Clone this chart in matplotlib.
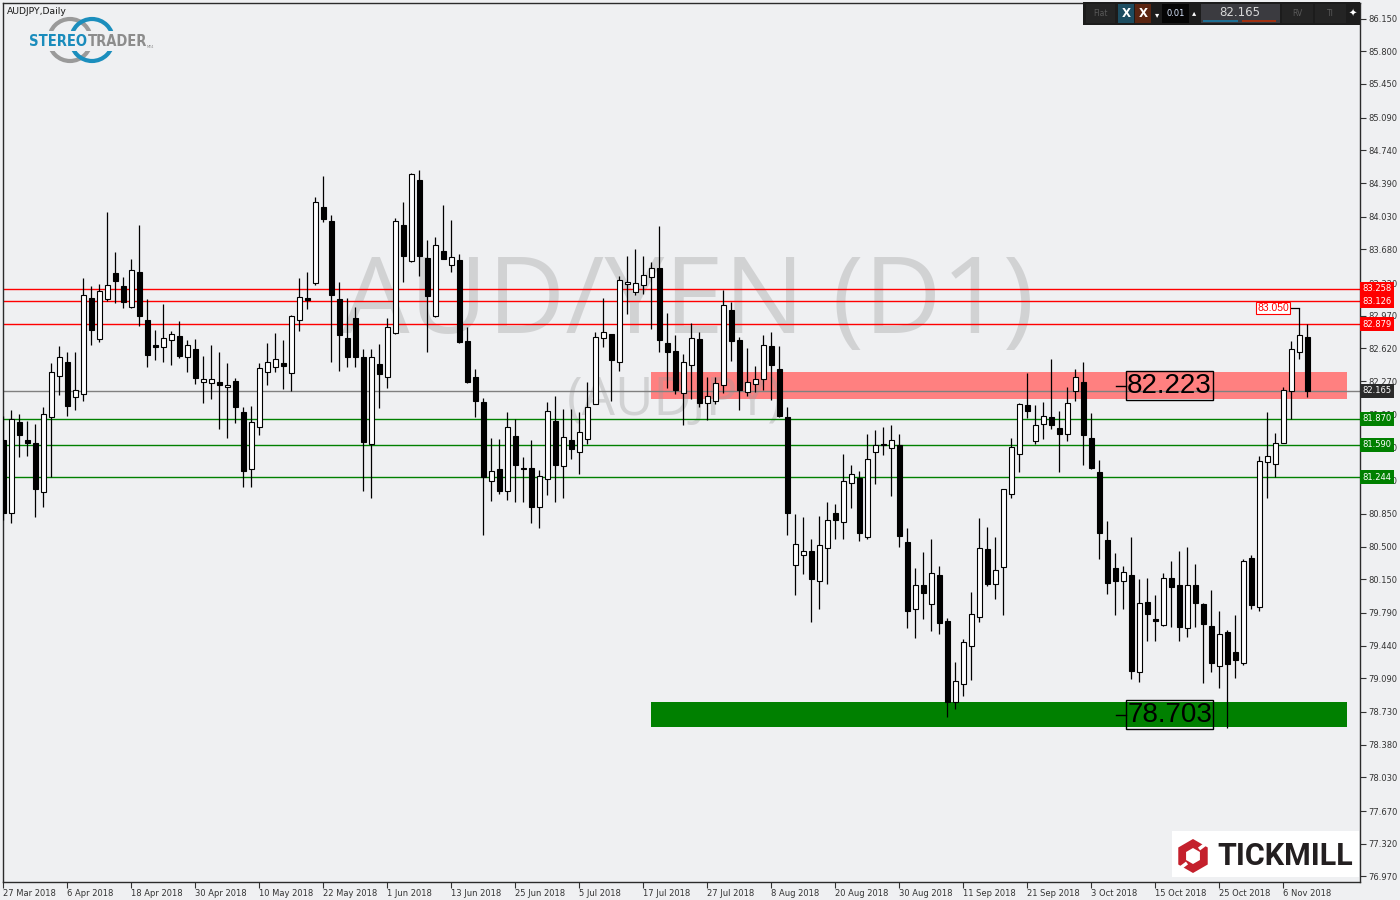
import matplotlib
matplotlib.use('Agg')
import matplotlib.pyplot as plt
from matplotlib.patches import Rectangle, Circle, RegularPolygon
import numpy as np
import pandas as pd

# AUDJPY daily bars, 27 Mar 2018 .. 9 Nov 2018
opens = [81.640, 80.857, 81.833, 81.640, 81.605, 81.088, 81.889, 82.322, 82.471, 82.097,
         82.129, 83.156, 82.718, 83.145, 83.427, 83.288, 83.066, 83.438, 82.924, 82.656,
         82.632, 82.707, 82.753, 82.525, 82.614, 82.257, 82.247, 82.261, 82.204, 82.271,
         81.940, 81.327, 81.776, 82.364, 82.418, 82.464, 82.354, 82.921, 83.156, 83.317,
         84.133, 83.980, 83.149, 82.731, 82.945, 82.528, 81.597, 82.453, 82.311, 82.788,
         83.940, 83.552, 84.422, 83.587, 82.967, 83.666, 83.509, 83.566, 82.699, 82.314,
         82.043, 81.198, 81.326, 81.098, 81.680, 81.337, 81.337, 80.920, 81.220, 81.840,
         81.362, 81.637, 81.508, 81.647, 82.022, 82.728, 82.774, 82.478, 83.306, 83.220,
         83.295, 83.381, 83.477, 82.678, 82.592, 82.140, 82.439, 82.721, 82.036, 82.054,
         82.229, 83.031, 82.710, 82.150, 82.236, 82.290, 82.646, 82.400, 81.883, 80.299,
         80.406, 80.452, 80.128, 80.481, 80.856, 80.759, 81.177, 81.236, 80.599, 81.508,
         81.600, 81.551, 81.587, 80.549, 79.829, 80.085, 79.882, 80.192, 79.700, 78.837,
         79.029, 79.436, 79.743, 80.470, 80.096, 80.284, 81.059, 81.487, 82.011, 81.626,
         81.808, 81.883, 81.768, 81.701, 82.161, 82.261, 81.661, 81.294, 80.570, 80.270,
         80.128, 80.192, 79.154, 79.903, 79.722, 79.665, 80.163, 80.085, 79.625, 80.085,
         79.885, 79.647, 79.219, 79.582, 79.372, 79.251, 80.377, 79.856, 81.407, 81.380,
         81.611, 82.161, 82.585, 82.739]
highs = [81.897, 81.961, 81.918, 81.843, 81.811, 81.990, 82.464, 82.646, 82.582, 82.582,
         83.373, 83.288, 83.309, 84.080, 83.652, 83.381, 83.573, 83.940, 83.149, 82.817,
         83.095, 82.806, 82.913, 82.710, 82.724, 82.542, 82.657, 82.582, 82.464, 82.307,
         81.990, 82.004, 82.464, 82.678, 82.785, 82.713, 82.978, 83.373, 83.438, 84.240,
         84.465, 84.048, 83.331, 83.156, 83.066, 82.614, 82.614, 82.667, 82.942, 84.012,
         84.183, 84.494, 84.529, 83.780, 83.809, 84.155, 83.994, 83.627, 82.849, 82.396,
         82.089, 81.661, 81.651, 81.940, 81.868, 81.455, 81.640, 81.319, 82.043, 82.108,
         81.972, 81.972, 81.936, 82.257, 82.799, 83.163, 82.774, 83.395, 83.606, 83.684,
         83.606, 83.545, 83.930, 82.996, 82.760, 82.560, 82.888, 82.796, 82.311, 82.314,
         83.245, 83.120, 82.742, 82.624, 82.432, 82.764, 82.799, 82.646, 81.993, 80.848,
         80.816, 80.581, 80.830, 80.977, 80.955, 81.490, 81.373, 81.311, 81.701, 81.744,
         81.775, 81.800, 81.708, 80.698, 80.270, 80.438, 80.581, 80.295, 79.739, 79.265,
         79.507, 80.013, 80.805, 80.712, 80.602, 81.119, 81.665, 82.039, 82.360, 82.011,
         82.047, 82.507, 81.950, 82.204, 82.400, 82.478, 81.929, 81.423, 80.773, 80.431,
         80.292, 80.602, 80.153, 80.167, 79.978, 80.214, 80.342, 80.449, 80.495, 80.310,
         79.893, 80.035, 79.807, 79.607, 79.768, 80.367, 80.410, 81.464, 81.936, 81.713,
         82.204, 82.696, 83.050, 82.879]
lows = [80.784, 80.755, 81.461, 81.468, 80.819, 80.926, 81.247, 82.125, 81.900, 81.964,
        82.061, 82.660, 82.692, 83.131, 83.103, 83.056, 83.056, 82.857, 82.424, 82.499,
        82.478, 82.446, 82.517, 82.371, 82.236, 82.033, 82.075, 81.755, 81.665, 81.819,
        81.134, 81.134, 81.697, 82.232, 82.364, 82.189, 82.164, 82.810, 83.045, 83.299,
        83.976, 82.478, 82.382, 82.424, 82.424, 81.098, 81.023, 81.986, 82.200, 82.771,
        83.334, 83.545, 83.398, 82.585, 82.959, 83.577, 83.441, 82.681, 82.255, 81.889,
        80.623, 80.991, 81.062, 80.998, 80.980, 80.973, 80.749, 80.695, 81.051, 80.980,
        81.023, 81.437, 81.273, 81.597, 82.022, 82.638, 82.061, 82.382, 82.988, 83.188,
        83.205, 82.831, 82.582, 82.200, 82.132, 81.804, 82.079, 81.996, 81.857, 82.026,
        82.140, 82.482, 81.961, 82.111, 82.157, 82.175, 82.068, 81.883, 80.620, 79.985,
        80.206, 79.696, 79.835, 80.102, 80.584, 80.584, 80.916, 80.563, 80.577, 81.169,
        81.480, 81.041, 80.496, 79.628, 79.525, 79.728, 79.600, 79.567, 78.679, 78.765,
        78.904, 79.075, 79.696, 80.081, 79.939, 79.771, 81.023, 81.298, 81.875, 81.597,
        81.654, 81.761, 81.298, 81.632, 82.061, 81.376, 81.326, 80.370, 79.992, 79.764,
        79.829, 79.083, 79.054, 79.489, 79.486, 79.651, 79.640, 79.492, 79.535, 79.642,
        79.043, 79.154, 78.990, 78.562, 79.097, 79.236, 79.832, 79.811, 81.023, 81.247,
        81.605, 81.870, 82.507, 82.100]
closes = [80.859, 81.861, 81.690, 81.605, 81.116, 81.915, 82.364, 82.525, 82.007, 82.172,
          83.188, 82.820, 83.231, 83.295, 83.338, 83.114, 83.456, 82.970, 82.546, 82.638,
          82.728, 82.771, 82.539, 82.653, 82.307, 82.290, 82.290, 82.232, 82.229, 81.996,
          81.312, 81.833, 82.407, 82.471, 82.503, 82.435, 82.964, 83.167, 83.141, 84.183,
          84.008, 83.195, 82.767, 82.531, 82.531, 81.622, 82.525, 82.343, 82.846, 83.980,
          83.612, 84.486, 83.612, 83.184, 83.723, 83.580, 83.595, 82.689, 82.264, 82.061,
          81.244, 81.305, 81.098, 81.776, 81.369, 81.326, 80.926, 81.252, 81.947, 81.369,
          81.669, 81.547, 81.729, 81.990, 82.739, 82.792, 82.499, 83.349, 83.328, 83.317,
          83.402, 83.477, 82.713, 82.585, 82.175, 82.471, 82.728, 82.039, 82.108, 82.247,
          83.081, 82.703, 82.175, 82.257, 82.290, 82.653, 82.446, 81.897, 80.862, 80.527,
          80.449, 80.156, 80.517, 80.781, 80.781, 81.198, 81.273, 80.648, 81.433, 81.590,
          81.587, 81.637, 80.614, 79.813, 80.085, 79.999, 80.214, 79.682, 78.837, 79.058,
          79.475, 79.775, 80.481, 80.102, 80.246, 81.112, 81.562, 82.022, 81.954, 81.797,
          81.894, 81.804, 81.707, 82.033, 82.311, 81.697, 81.344, 80.648, 80.113, 80.135,
          80.224, 79.165, 79.893, 79.775, 79.700, 80.160, 80.070, 79.642, 80.085, 79.899,
          79.674, 79.251, 79.561, 79.246, 79.289, 80.342, 79.878, 81.418, 81.474, 81.605,
          82.172, 82.611, 82.760, 82.165]

red_levels = [83.258, 83.126, 82.879]
green_levels = [81.870, 81.590, 81.244]
bid = 82.165
res_zone = (82.079, 82.371)
sup_zone = (78.570, 78.838)
zone_from, zone_to = 81, 168
res_label, sup_label = 82.223, 78.703
swing_high = 83.050
yticks = [86.150, 85.800, 85.450, 85.090, 84.740, 84.390, 84.030, 83.680, 83.320,
          82.970, 82.620, 82.270, 81.910, 81.560, 81.210, 80.850, 80.500, 80.150,
          79.790, 79.440, 79.090, 78.730, 78.380, 78.030, 77.670, 77.320, 76.970]

bg = '#eff0f2'
plt.rcParams['font.family'] = 'DejaVu Sans'

o = np.array(opens); h = np.array(highs); l = np.array(lows); c = np.array(closes)
idx = np.arange(len(o))
dates = pd.bdate_range('2018-03-27', periods=len(o))

fig = plt.figure(figsize=(14, 9), dpi=100)
fig.patch.set_facecolor(bg)
ax = fig.add_axes([3 / 1400, 18 / 900, 1357 / 1400, 879 / 900])
ax.set_facecolor(bg)
ax.set_xlim(-0.04, 169.6)
ax.set_ylim(76.911, 86.316)

# zones
ax.add_patch(Rectangle((zone_from, res_zone[0]), zone_to - zone_from, res_zone[1] - res_zone[0],
                       fc='#ff8080', ec='none', zorder=1))
ax.add_patch(Rectangle((zone_from, sup_zone[0]), zone_to - zone_from, sup_zone[1] - sup_zone[0],
                       fc='#008000', ec='none', zorder=1))

# watermark
ax.text(85.6, 82.785, 'AUD/YEN (D1)', family='Open Sans', fontsize=77, color='#9e9e9e',
        alpha=0.36, ha='center', va='baseline', zorder=1.5)
ax.text(84.0, 81.908, '(AUDJPY)', family='Open Sans', fontsize=38, color='#9e9e9e',
        alpha=0.36, ha='center', va='baseline', zorder=1.5)

# horizontal levels
for lv in red_levels:
    ax.axhline(lv, color='#ff0000', lw=1, zorder=2)
for lv in green_levels:
    ax.axhline(lv, color='#008000', lw=1, zorder=2)
ax.axhline(bid, color='#808080', lw=1, zorder=2)

# candles
up = c >= o
ax.vlines(idx, l, h, color='black', lw=0.9, zorder=3)
ax.bar(idx[up], (c - o)[up], bottom=o[up], width=0.62, color='white', edgecolor='black',
       lw=0.8, zorder=4)
ax.bar(idx[~up], (o - c)[~up], bottom=c[~up], width=0.62, color='black', edgecolor='black',
       lw=0.8, zorder=4)

# price labels on the zones
for lv in (res_label, sup_label):
    ax.plot([139.1, 140.35], [lv, lv], color='black', lw=1, zorder=5)
    ax.text(140.5, lv, f'{lv:.3f}', family='Liberation Sans', fontsize=20, color='black',
            ha='left', va='center', zorder=5,
            bbox=dict(boxstyle='square,pad=0.05', fc='none', ec='black', lw=1))
ax.plot([160.8, 162], [swing_high, swing_high], color='black', lw=0.9, zorder=5)
ax.text(160.7, swing_high, f'{swing_high:.3f}', family='Liberation Sans', fontsize=7.5,
        color='#ff0000', ha='right', va='center', zorder=5,
        bbox=dict(boxstyle='square,pad=0.12', fc='white', ec='#ff0000', lw=0.8))

# axes
for s in ax.spines.values():
    s.set_color('#2b2b2b')
    s.set_linewidth(1)
ax.yaxis.tick_right()
ax.set_yticks(yticks)
ax.set_yticklabels([f'{t:.3f}' for t in yticks])
ax.tick_params(axis='y', direction='out', length=4, pad=2, labelsize=6, colors='#333333')
tick_idx = idx[::8]
ax.set_xticks(tick_idx)
ax.set_xticklabels([f'{d.day} {d:%b %Y}' for d in dates[tick_idx]])
ax.tick_params(axis='x', direction='out', length=4, pad=1, labelsize=6, colors='#333333')
for lab in ax.get_xticklabels():
    lab.set_ha('left')

ytr = ax.get_yaxis_transform()
for lv, col in [(83.258, '#ff0000'), (83.126, '#ff0000'), (82.879, '#ff0000'),
                (bid, '#2a2a2a'), (81.870, '#008000'), (81.590, '#008000'), (81.244, '#008000')]:
    ax.text(1.0016, lv, f'{lv:.3f}', transform=ytr, fontsize=6, color='white', ha='left',
            va='center', clip_on=False, zorder=6,
            bbox=dict(boxstyle='square,pad=0.3', fc=col, ec='none'))

# overlay in pixel coordinates for title, logos and toolbar
ov = fig.add_axes([0, 0, 1, 1])
ov.set_xlim(0, 1400)
ov.set_ylim(900, 0)
ov.axis('off')

ov.text(7, 11, 'AUDJPY,Daily', fontsize=6.7, color='#1a1a1a', va='center', ha='left')

# StereoTrader logo
ov.add_patch(Circle((70, 40), 21, fc='none', ec='#9a9a9a', lw=3))
ov.add_patch(Circle((92, 40), 21, fc='none', ec='#1b8ebd', lw=3))
ov.add_patch(Rectangle((26, 31), 114, 20, fc=bg, ec='none'))
ov.text(87, 41, 'STEREO', fontsize=10.5, weight='bold', stretch='condensed', color='#1a8cbc',
        ha='right', va='center')
ov.text(88, 41, 'TRADER', fontsize=10.5, weight='bold', stretch='condensed', color='#8c8c8c',
        ha='left', va='center')
ov.text(147, 47, 'MT4', fontsize=2.5, color='#8c8c8c', ha='left', va='center')

# Tickmill logo
ov.add_patch(Rectangle((1172, 831), 187, 46, fc='white', ec='none'))
ov.add_patch(RegularPolygon((1193, 856), 6, radius=17, orientation=0, fc='#c4202c', ec='none'))
ov.add_patch(RegularPolygon((1193, 856), 6, radius=8, orientation=0, fc='white', ec='none'))
ov.plot([1199, 1207], [849, 843], color='white', lw=2.5, solid_capstyle='butt')
ov.plot([1179, 1187], [869, 863], color='white', lw=2.5, solid_capstyle='butt')
ov.text(1217, 856, 'TICKMILL', family='Roboto', fontsize=22, weight='bold', color='#231f20',
        ha='left', va='center')

# trading toolbar
ov.add_patch(Rectangle((1083, 2), 277, 23, fc='#1c1c1c', ec='none'))
for x0, w, fc in [(1086, 29, '#242424'), (1118, 16, '#1d4d61'), (1135, 16, '#5b2511'),
                  (1162, 27, '#050505'), (1201, 79, '#3b3b40'), (1282, 31, '#242424'),
                  (1315, 31, '#242424')]:
    ov.add_patch(Rectangle((x0, 4), w, 19, fc=fc, ec='none'))
ov.text(1100, 13.5, 'Flat', fontsize=5.5, color='#5a5a5a', ha='center', va='center')
ov.text(1126, 13.5, 'X', fontsize=8.5, weight='bold', color='white', ha='center', va='center')
ov.text(1143, 13.5, 'X', fontsize=8.5, weight='bold', color='white', ha='center', va='center')
ov.text(1157, 15, '\u25be', fontsize=6, color='white', ha='center', va='center')
ov.text(1175.5, 14, '0.01', fontsize=6, color='#dbe8ff', ha='center', va='center')
ov.text(1194, 13, '\u25b4', fontsize=6, color='white', ha='center', va='center')
ov.text(1240, 12.5, f'{bid:.3f}', fontsize=8.5, color='#d8d8d8', ha='center', va='center')
ov.add_patch(Rectangle((1203, 20), 35, 2, fc='#1e6f94', ec='none'))
ov.add_patch(Rectangle((1242, 20), 34, 2, fc='#a03010', ec='none'))
ov.text(1297, 13.5, 'RV', fontsize=5.5, color='#5a5a5a', ha='center', va='center')
ov.text(1330, 13.5, 'TI', fontsize=5.5, color='#5a5a5a', ha='center', va='center')
ov.text(1353, 13.5, '\u2726', fontsize=7, color='white', ha='center', va='center')

fig.savefig('out.png', dpi=100, facecolor=bg)
